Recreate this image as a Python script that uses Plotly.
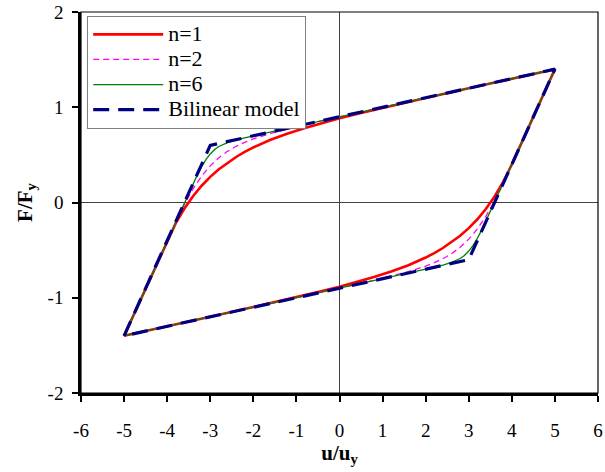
import plotly.graph_objects as go

# ---- data ----
# n=1 (upper branch then lower branch)
u_n1_up = [-5, -4, -3.8, -3.6, -3.4, -3.2, -3.0, -2.8, -2.6, -2.4, -2.2, -2.0, -1.6, -1.2, -0.8, -0.4, 0, 0.5, 1, 2, 3, 4, 5]
f_n1_up = [-1.4, -0.4, -0.217, -0.063, 0.066, 0.176, 0.269, 0.349, 0.418, 0.478, 0.531, 0.578, 0.658, 0.725, 0.783, 0.835, 0.884, 0.940, 0.994, 1.098, 1.199, 1.3, 1.4]
u_n1_lo = [5, 4, 3.8, 3.6, 3.4, 3.2, 3.0, 2.8, 2.6, 2.4, 2.2, 2.0, 1.6, 1.2, 0.8, 0.4, 0, -0.5, -1, -2, -3, -4, -5]
f_n1_lo = [1.4, 0.4, 0.217, 0.063, -0.066, -0.176, -0.269, -0.349, -0.418, -0.478, -0.531, -0.578, -0.658, -0.725, -0.783, -0.835, -0.884, -0.940, -0.994, -1.098, -1.199, -1.3, -1.4]

# n=2
u_n2_up = [-5, -4, -3.8, -3.6, -3.4, -3.2, -3.0, -2.8, -2.6, -2.4, -2.2, -2.0, -1.6, -1.2, -0.8, -0.4, 0, 1, 2, 3, 4, 5]
f_n2_up = [-1.4, -0.4, -0.202, -0.018, 0.143, 0.278, 0.385, 0.470, 0.537, 0.590, 0.632, 0.668, 0.725, 0.773, 0.817, 0.859, 0.900, 1.0, 1.1, 1.2, 1.3, 1.4]
u_n2_lo = [5, 4, 3.8, 3.6, 3.4, 3.2, 3.0, 2.8, 2.6, 2.4, 2.2, 2.0, 1.6, 1.2, 0.8, 0.4, 0, -1, -2, -3, -4, -5]
f_n2_lo = [1.4, 0.4, 0.202, 0.018, -0.143, -0.278, -0.385, -0.470, -0.537, -0.590, -0.632, -0.668, -0.725, -0.773, -0.817, -0.859, -0.900, -1.0, -1.1, -1.2, -1.3, -1.4]

# n=6
u_n6_up = [-5, -4, -3.7, -3.5, -3.4, -3.3, -3.2, -3.1, -3.0, -2.9, -2.8, -2.7, -2.6, -2.4, -2.2, -2.0, 0, 5]
f_n6_up = [-1.4, -0.4, -0.1, 0.099, 0.196, 0.290, 0.376, 0.451, 0.510, 0.556, 0.588, 0.612, 0.629, 0.657, 0.679, 0.700, 0.900, 1.4]
u_n6_lo = [5, 4, 3.7, 3.5, 3.4, 3.3, 3.2, 3.1, 3.0, 2.9, 2.8, 2.7, 2.6, 2.4, 2.2, 2.0, 0, -5]
f_n6_lo = [1.4, 0.4, 0.1, -0.099, -0.196, -0.290, -0.376, -0.451, -0.510, -0.556, -0.588, -0.612, -0.629, -0.657, -0.679, -0.700, -0.900, -1.4]

# Bilinear model
u_bil = [-5, -3, 5, 3, -5]
f_bil = [-1.4, 0.6, 1.4, -0.6, -1.4]

series_names = ["n=1", "n=2", "n=6", "Bilinear model"]
x_ticks = [-6, -5, -4, -3, -2, -1, 0, 1, 2, 3, 4, 5, 6]
y_ticks = [-2, -1, 0, 1, 2]

FONT = "Liberation Serif, Times New Roman, serif"


def lg(name):
    return '<span style="font-size:22px">' + name + '</span>'


fig = go.Figure()
fig.add_trace(go.Scatter(x=u_n1_up + u_n1_lo, y=f_n1_up + f_n1_lo, mode="lines", name=lg(series_names[0]),
                         line=dict(color="#ff0000", width=2.6)))
fig.add_trace(go.Scatter(x=u_n2_up + u_n2_lo, y=f_n2_up + f_n2_lo, mode="lines", name=lg(series_names[1]),
                         line=dict(color="#ff00ff", width=1.3, dash="6px,4px")))
fig.add_trace(go.Scatter(x=u_n6_up + u_n6_lo, y=f_n6_up + f_n6_lo, mode="lines", name=lg(series_names[2]),
                         line=dict(color="#008000", width=1.3)))
fig.add_trace(go.Scatter(x=u_bil, y=f_bil, mode="lines", name=lg(series_names[3]),
                         line=dict(color="#000080", width=3.2, dash="16px,9px")))

fig.update_layout(
    width=605, height=472,
    margin=dict(l=81, r=7, t=12, b=79, autoexpand=False),
    paper_bgcolor="white", plot_bgcolor="white",
    font=dict(family=FONT, size=18, color="black"),
    showlegend=True,
    legend=dict(x=0.012, y=0.99, xanchor="left", yanchor="top",
                bgcolor="white", bordercolor="#808080", borderwidth=1,
                font=dict(family=FONT, size=17, color="black"),
                tracegroupgap=0, itemwidth=70),
    xaxis=dict(range=[-6, 6], tickvals=x_ticks, ticktext=[str(v) for v in x_ticks],
               ticks="outside", ticklen=6, tickwidth=2, tickcolor="black",
               showline=True, linewidth=2.5, linecolor="black", mirror=False,
               showgrid=False, zeroline=True, zerolinecolor="#404040", zerolinewidth=1,
               automargin=False, ticklabelstandoff=12,
               title=dict(text="<b>u/u<sub>y</sub></b>", font=dict(family=FONT, size=21), standoff=0),
               tickfont=dict(family=FONT, size=19)),
    yaxis=dict(range=[-2, 2], tickvals=y_ticks, ticktext=[str(v) for v in y_ticks],
               ticks="outside", ticklen=6, tickwidth=2, tickcolor="black",
               showline=True, linewidth=2.5, linecolor="black", mirror=False,
               showgrid=False, zeroline=True, zerolinecolor="#404040", zerolinewidth=1,
               automargin=False, ticklabelstandoff=5,
               title=dict(text="<b>F/F<sub>y</sub></b>", font=dict(family=FONT, size=21), standoff=10),
               tickfont=dict(family=FONT, size=19)),
    shapes=[dict(type="rect", xref="paper", yref="paper", x0=0, y0=0, x1=1, y1=1,
                 line=dict(color="black", width=1.2), layer="above")],
)

fig.write_html("out.html", config={"displayModeBar": False},
               post_script="document.body.style.margin='0';document.body.style.overflow='hidden';")
